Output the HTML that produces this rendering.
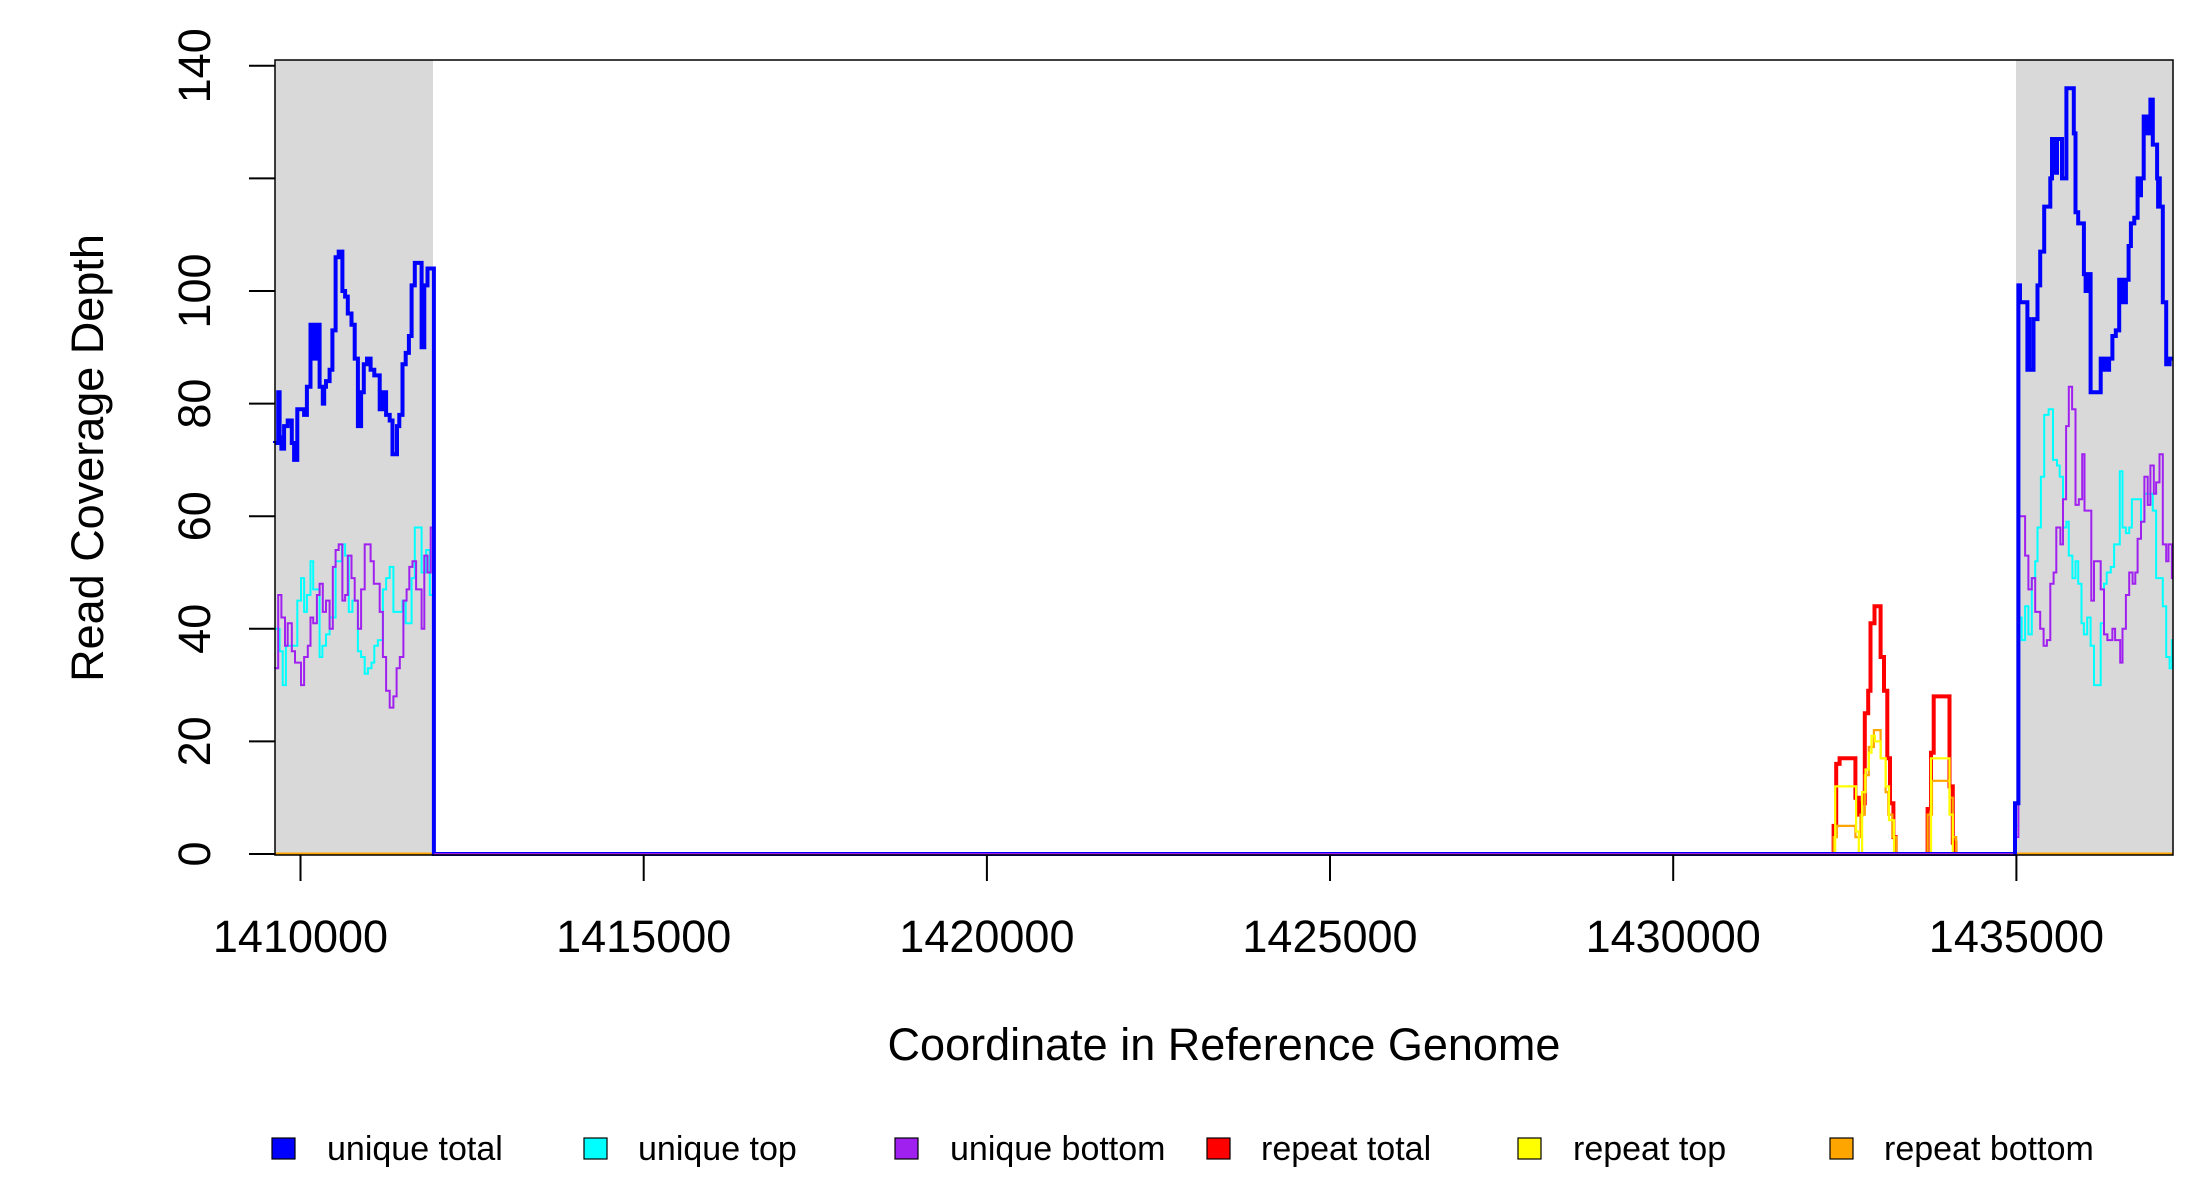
<!DOCTYPE html>
<html><head><meta charset="utf-8"><style>
html,body{margin:0;padding:0;background:#fff}
svg{display:block;font-family:"Liberation Sans",Arial,sans-serif}
</style></head><body>
<svg id="s" width="2200" height="1200" viewBox="0 0 2200 1200" xmlns="http://www.w3.org/2000/svg">
<rect x="275" y="60" width="158" height="795" fill="#d9d9d9"/>
<rect x="2016" y="60" width="157" height="795" fill="#d9d9d9"/>
<g id="data" fill="none" stroke-linejoin="miter"></g>
<rect x="275" y="60" width="1898" height="795" fill="none" stroke="#000" stroke-width="1.5"/>
<g stroke="#000" stroke-width="2">
<line x1="249" y1="854" x2="275" y2="854"/><line x1="249" y1="741.4" x2="275" y2="741.4"/>
<line x1="249" y1="628.8" x2="275" y2="628.8"/><line x1="249" y1="516.2" x2="275" y2="516.2"/>
<line x1="249" y1="403.6" x2="275" y2="403.6"/><line x1="249" y1="291" x2="275" y2="291"/>
<line x1="249" y1="178.4" x2="275" y2="178.4"/><line x1="249" y1="65.8" x2="275" y2="65.8"/>
<line x1="300.5" y1="855" x2="300.5" y2="881"/><line x1="643.7" y1="855" x2="643.7" y2="881"/>
<line x1="986.9" y1="855" x2="986.9" y2="881"/><line x1="1330" y1="855" x2="1330" y2="881"/>
<line x1="1673.2" y1="855" x2="1673.2" y2="881"/><line x1="2016.4" y1="855" x2="2016.4" y2="881"/>
</g>
<g font-size="45" text-anchor="middle" fill="#000">
<text transform="translate(210,854) rotate(-90)">0</text>
<text transform="translate(210,741.4) rotate(-90)">20</text>
<text transform="translate(210,628.8) rotate(-90)">40</text>
<text transform="translate(210,516.2) rotate(-90)">60</text>
<text transform="translate(210,403.6) rotate(-90)">80</text>
<text transform="translate(210,291) rotate(-90)">100</text>
<text transform="translate(210,65.8) rotate(-90)">140</text>
<text x="300.5" y="952">1410000</text><text x="643.7" y="952">1415000</text>
<text x="986.9" y="952">1420000</text><text x="1330" y="952">1425000</text>
<text x="1673.2" y="952">1430000</text><text x="2016.4" y="952">1435000</text>
<text x="1224" y="1060">Coordinate in Reference Genome</text>
<text transform="translate(103,458) rotate(-90)">Read Coverage Depth</text>
</g>
<g stroke="#000" stroke-width="1.2">
<rect x="272" y="1138" width="23" height="21" fill="#0000ff"/>
<rect x="584" y="1138" width="23" height="21" fill="#00ffff"/>
<rect x="895" y="1138" width="23" height="21" fill="#a020f0"/>
<rect x="1207" y="1138" width="23" height="21" fill="#ff0000"/>
<rect x="1518" y="1138" width="23" height="21" fill="#ffff00"/>
<rect x="1830" y="1138" width="23" height="21" fill="#ffa500"/>
</g>
<g font-size="34" fill="#000">
<text x="327" y="1160">unique total</text>
<text x="638" y="1160">unique top</text>
<text x="950" y="1160">unique bottom</text>
<text x="1261" y="1160">repeat total</text>
<text x="1573" y="1160">repeat top</text>
<text x="1884" y="1160">repeat bottom</text>
</g>
</svg>
<script>
var Y=function(v){return 854-v*5.63;};
var L=function(z){return 275+(z-608)*0.4553;};
var R=function(z){return 2016+(z-708)*0.336;};
var g=document.getElementById('data');
function step(pts,fx,endx,col,w,pre,post){
  var d='M'+pre[0]+' '+Y(pre[1]);
  for(var i=0;i<pts.length;i++){
    var x=fx(pts[i][0]);
    d+=' L'+x.toFixed(1)+' '+(i==0?Y(pre[1]):Y(pts[i-1][1])).toFixed(1)+' L'+x.toFixed(1)+' '+Y(pts[i][1]).toFixed(1);
  }
  var ex=fx(endx);
  d+=' L'+ex.toFixed(1)+' '+Y(pts[pts.length-1][1]).toFixed(1);
  if(post){d+=' L'+ex.toFixed(1)+' '+Y(0)+' L'+post+' '+Y(0);}
  var p=document.createElementNS('http://www.w3.org/2000/svg','path');
  p.setAttribute('d',d);p.setAttribute('stroke',col);p.setAttribute('stroke-width',w);p.setAttribute('fill','none');
  g.appendChild(p);
}
function line(x1,x2,col,w){var p=document.createElementNS('http://www.w3.org/2000/svg','path');
p.setAttribute('d','M'+x1+' '+Y(0)+' L'+x2+' '+Y(0));p.setAttribute('stroke',col);p.setAttribute('stroke-width',w);g.appendChild(p);}
line(275,2173,'#ffa500',3);
var red=[[163,0],[165,5],[173,16],[183,17],[220,17],[230,10],[240,7],[248,9],[258,25],[268,29],[275,41],[287,44],[305,35],[315,29],[325,17],[333,9],[343,3],[350,0],[445,8],[455,18],[463,28],[510,12],[520,2],[528,0]];
var yel=[[170,12],[220,12],[232,4],[240,0],[250,11],[260,15],[270,18],[278,21],[288,20],[305,17],[320,12],[330,6],[345,0],[455,17],[510,7],[520,0]];
var ora=[[165,3],[175,5],[230,3],[245,7],[258,14],[270,19],[285,22],[305,17],[320,11],[328,7],[340,3],[352,0],[445,7],[458,13],[510,10],[520,3],[530,0]];
step(red,R,540,'#ff0000',4,[R(150),0]);
step(ora,R,540,'#ffa500',2.2,[R(150),0]);
step(yel,R,540,'#ffff00',2.2,[R(150),0]);
var lb=[[608,73],[615,82],[618,74],[622,72],[628,76],[636,77],[645,73],[650,70],[657,79],[672,78],[678,83],[686,94],[689,88],[692,94],[695,88],[700,94],[706,83],[713,80],[716,83],[720,84],[728,86],[734,93],[741,106],[748,107],[756,100],[762,99],[768,96],[776,94],[783,88],[790,76],[797,82],[803,87],[810,88],[818,86],[826,85],[838,79],[842,82],[845,79],[848,82],[852,78],[860,77],[866,71],[876,76],[881,78],[888,87],[895,89],[902,92],[908,101],[915,105],[928,105],[930,90],[936,101],[943,104],[954,104]];
var lc=[[608,40],[618,36],[625,30],[632,37],[645,37],[657,45],[665,49],[672,43],[678,46],[686,52],[692,47],[706,35],[712,37],[720,39],[728,42],[741,52],[755,55],[762,53],[770,43],[778,45],[790,36],[797,35],[805,32],[812,33],[820,34],[826,37],[834,38],[845,47],[852,49],[860,51],[868,43],[888,45],[895,41],[908,49],[915,58],[930,50],[940,54],[948,46]];
var lp=[[608,33],[615,46],[622,42],[630,37],[636,41],[645,36],[652,34],[665,30],[672,35],[680,37],[686,42],[692,41],[700,46],[706,48],[713,43],[720,45],[728,40],[735,51],[741,54],[748,55],[756,45],[762,46],[768,53],[776,49],[783,45],[790,40],[797,47],[805,55],[818,52],[825,48],[838,43],[845,35],[852,29],[860,26],[868,28],[875,33],[882,35],[890,45],[897,47],[903,51],[910,52],[918,47],[930,40],[936,53],[943,50],[950,58]];
step(lc,L,956,'#00ffff',2,[275,40],434);
step(lp,L,956,'#a020f0',2,[275,33],434);
step(lb,L,957,'#0000ff',4,[275,73],2016);
line(434,2015,'#a020f0',2);
var rb=[[705,9],[715,101],[720,98],[735,98],[742,86],[745,95],[748,86],[752,86],[760,95],[772,101],[780,107],[792,115],[810,120],[815,127],[818,121],[822,127],[826,121],[830,127],[835,127],[845,120],[858,136],[875,136],[880,128],[885,114],[893,112],[910,103],[915,100],[922,103],[930,82],[960,88],[968,86],[973,88],[978,86],[985,88],[995,92],[1005,93],[1015,102],[1019,98],[1022,102],[1027,98],[1035,102],[1043,108],[1050,112],[1060,113],[1070,120],[1075,117],[1080,120],[1088,131],[1100,128],[1108,134],[1115,126],[1128,120],[1131,115],[1133,120],[1136,115],[1145,98],[1155,87],[1165,88]];
var rc=[[705,5],[715,42],[725,38],[735,44],[745,39],[755,49],[765,52],[772,58],[782,67],[792,78],[805,79],[818,70],[830,69],[838,67],[848,58],[858,59],[865,53],[876,49],[885,52],[893,48],[903,41],[910,39],[920,42],[930,37],[940,30],[960,41],[970,48],[978,50],[990,51],[1000,55],[1010,55],[1017,68],[1025,58],[1035,57],[1045,58],[1053,63],[1070,63],[1080,59],[1090,64],[1115,61],[1125,49],[1145,44],[1155,35],[1165,33],[1172,38]];
var rp=[[705,3],[715,60],[725,60],[735,53],[745,47],[755,49],[765,43],[780,40],[790,37],[800,38],[810,48],[820,50],[828,58],[840,55],[848,63],[857,76],[865,83],[875,79],[885,62],[895,63],[905,71],[912,61],[932,45],[940,52],[960,47],[970,39],[980,38],[995,40],[1003,38],[1018,34],[1025,40],[1035,46],[1045,50],[1055,48],[1063,50],[1070,56],[1080,59],[1090,67],[1100,62],[1108,69],[1118,64],[1125,66],[1135,71],[1145,55],[1155,52],[1162,55],[1172,49]];
step(rc,R,1175,'#00ffff',2,[2014,0]);
step(rp,R,1175,'#a020f0',2,[2014,0]);
step(rb,R,1175,'#0000ff',4,[2014,0]);
</script>
</body></html>
